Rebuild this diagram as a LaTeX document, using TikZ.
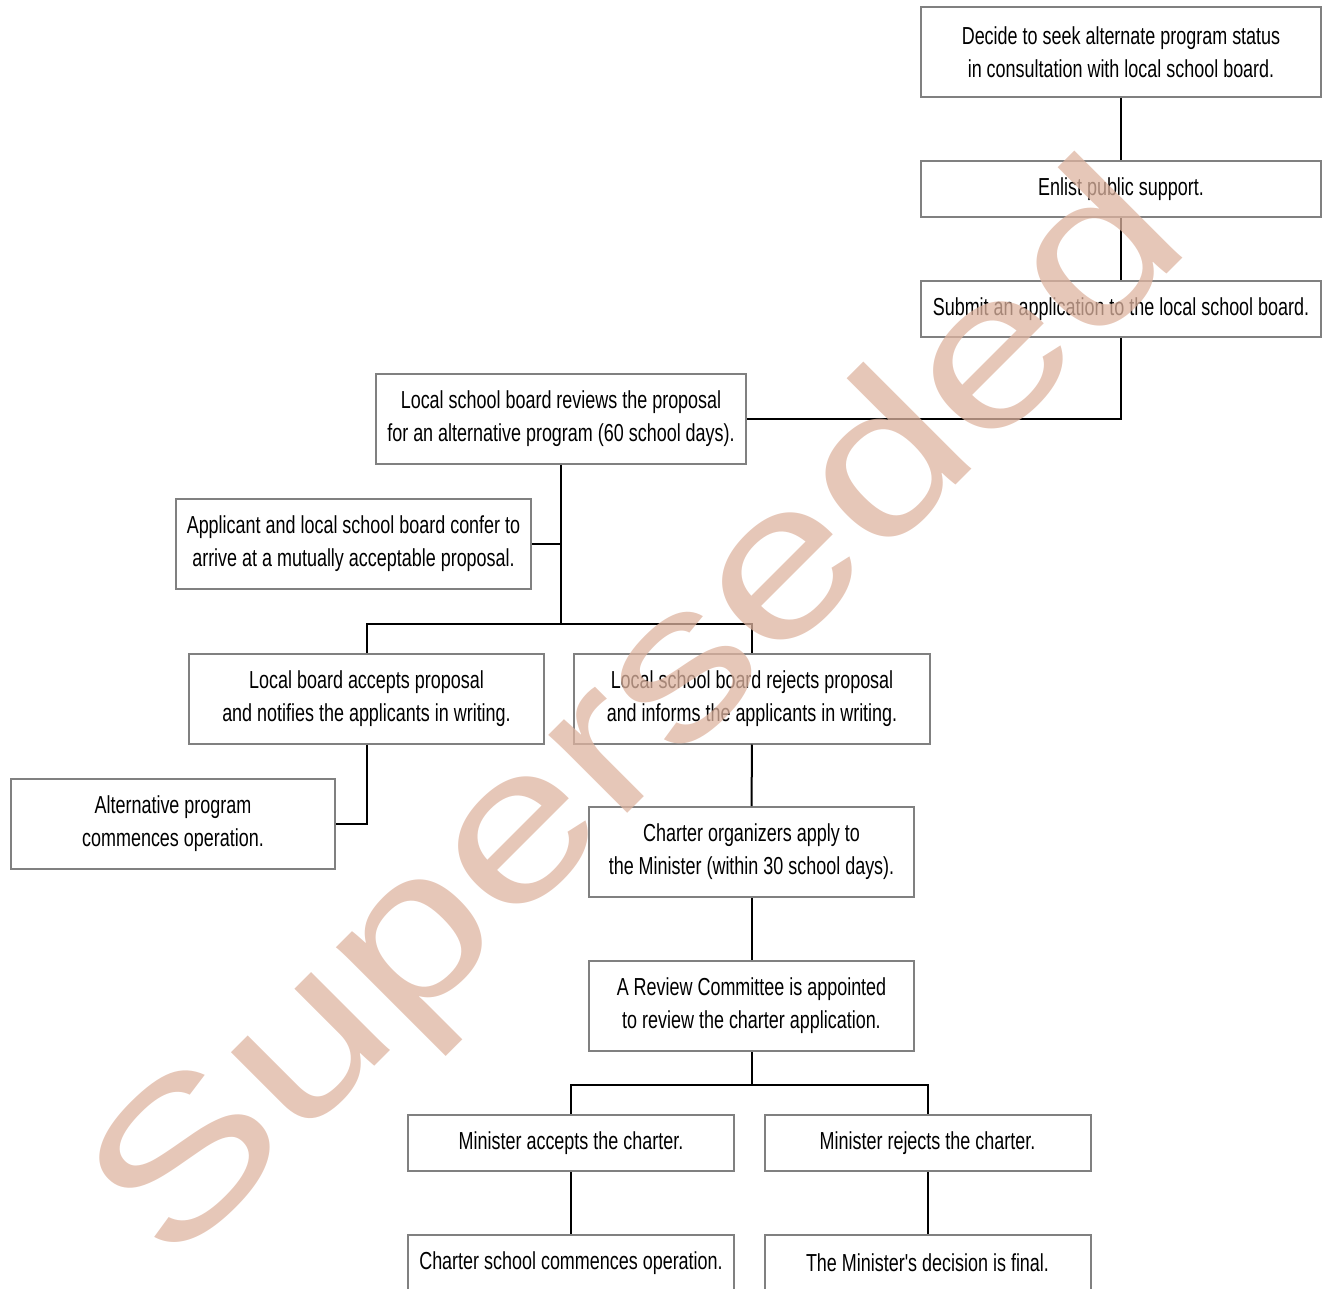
\documentclass[tikz,border=0pt]{standalone}
\usepackage{fontspec}
\setmainfont{Liberation Sans}[FakeStretch=0.73, Ligatures=TeXOff]
\newfontfamily\markfont{Liberation Sans}
\usetikzlibrary{positioning}
\definecolor{boxGray}{RGB}{128,128,128}
\definecolor{markSalmon}{RGB}{222,180,160}

\begin{document}
\begin{tikzpicture}[x=0.5pt, y=-0.5pt,
		every node/.style={align=center, font=\fontsize{12.3}{16.5}\selectfont},
		tallBox/.style={
				draw=boxGray, line width=1pt,
				minimum height=45pt, inner sep=0pt
			},
		flatBox/.style={
				draw=boxGray, line width=1pt,
				minimum height=28pt, inner sep=0pt
			},
		linkLine/.style={draw=black, line width=1pt},
		markText/.style={
				font=\markfont\fontsize{105}{105}\selectfont,
				text=markSalmon, opacity=0.75,
				rotate=45, xscale=1.28, transform shape
			}
	]

	\useasboundingbox (0,0) rectangle (1324,1289);

	% Application steps
	\node[tallBox, minimum width=200pt] (A1) at (1121,52) {Decide to seek alternate program status\\in consultation with local school board.};
	\node[flatBox, minimum width=200pt] (A2) at (1121,189) {Enlist public support.};
	\node[flatBox, minimum width=200pt] (A3) at (1121,309.5) {Submit an application to the local school board.};

	% Local board review
	\node[tallBox, minimum width=185pt] (A4) at (561,419) {Local school board reviews the proposal\\for an alternative program (60 school days).};
	\node[tallBox, minimum width=177.5pt] (A5) at (353.5,544) {Applicant and local school board confer to\\arrive at a mutually acceptable proposal.};
	\node[tallBox, minimum width=177.5pt] (A6) at (366.5,698.5) {Local board accepts proposal\\and notifies the applicants in writing.};
	\node[tallBox, minimum width=178pt] (A7) at (752,698.5) {Local school board rejects proposal\\and informs the applicants in writing.};
	\node[tallBox, minimum width=162pt] (A8) at (173,823.5) {Alternative program\\commences operation.};

	% Charter route
	\node[tallBox, minimum width=162.5pt] (A9) at (751.5,852) {Charter organizers apply to\\the Minister (within 30 school days).};
	\node[tallBox, minimum width=162.5pt] (A10) at (751.5,1006) {A Review Committee is appointed\\to review the charter application.};
	\node[flatBox, minimum width=163pt] (A11) at (571,1143) {Minister accepts the charter.};
	\node[flatBox, minimum width=163pt] (A12) at (927.5,1143) {Minister rejects the charter.};
	\node[flatBox, minimum width=163pt] (A13) at (571,1263) {Charter school commences operation.};
	\node[flatBox, minimum width=163pt] (A14) at (927.5,1263) {The Minister's decision is final.};

	\coordinate (J1) at (561,624);
	\coordinate (J2) at (751.5,1085);

	\draw[linkLine] (A1) -- (A2);
	\draw[linkLine] (A2) -- (A3);
	\draw[linkLine] (A3.south) |- (A4.east);
	\draw[linkLine] (A4.south) -- (J1);
	\draw[linkLine] (A5.east) -- (A5.east -| J1);
	\draw[linkLine] (A6.north) |- (J1) -| (A7.north);
	\draw[linkLine] (A6.south) |- (A8.east);
	\draw[linkLine] (A7) -- (A9);
	\draw[linkLine] (A9) -- (A10);
	\draw[linkLine] (A10.south) -- (J2);
	\draw[linkLine] (A11.north) |- (J2) -| (A12.north);
	\draw[linkLine] (A11) -- (A13);
	\draw[linkLine] (A12) -- (A14);

	% Watermark
	\node[markText, anchor=base] (W) at (683,758) {Superseded};
\end{tikzpicture}
\end{document}
